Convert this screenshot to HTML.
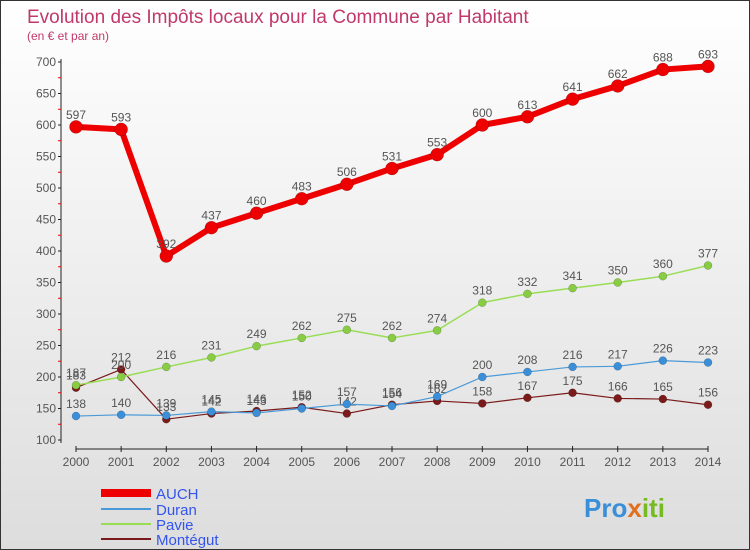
<!DOCTYPE html>
<html><head><meta charset="utf-8"><style>
body{margin:0}
#c{width:748px;height:548px;border:1px solid #333;background:linear-gradient(#fff,#ddd);position:relative;font-family:"Liberation Sans",sans-serif}
</style></head><body>
<div id="c">
<svg id="s" width="748" height="548" style="position:absolute;left:0;top:0" font-family="Liberation Sans, sans-serif">
<text x="26" y="22" font-size="19" fill="#c0396a">Evolution des Impôts locaux pour la Commune par Habitant</text>
<text x="26" y="39" font-size="12" fill="#c0396a">(en € et par an)</text>
<g id="ax"></g><g id="ser"></g>
<g>
<line x1="100" y1="492" x2="150" y2="492" stroke="#e00" stroke-width="8"/>
<text x="155" y="498" font-size="15" fill="#3355ee">AUCH</text>
<line x1="100" y1="508" x2="150" y2="508" stroke="#4a9ad8" stroke-width="2"/>
<text x="155" y="514" font-size="15" fill="#3355ee">Duran</text>
<line x1="100" y1="523" x2="150" y2="523" stroke="#99dd55" stroke-width="2"/>
<text x="155" y="529" font-size="15" fill="#3355ee">Pavie</text>
<line x1="100" y1="538" x2="150" y2="538" stroke="#7a1a1a" stroke-width="2"/>
<text x="155" y="544" font-size="15" fill="#3355ee">Montégut</text>
</g>
<text x="583" y="516" font-size="26" font-weight="bold" fill="#3a8fd8">Pro<tspan fill="#e07020">x</tspan><tspan fill="#77bb22">iti</tspan></text>
</svg>
</div>
<script>
const years=[2000,2001,2002,2003,2004,2005,2006,2007,2008,2009,2010,2011,2012,2013,2014];
const yTicks=[100,150,200,250,300,350,400,450,500,550,600,650,700];
const auch=[597,593,392,437,460,483,506,531,553,600,613,641,662,688,693];
const duran=[138,140,139,145,143,150,157,154,169,200,208,216,217,226,223];
const pavie=[187,200,216,231,249,262,275,262,274,318,332,341,350,360,377];
const montegut=[183,212,133,142,146,152,142,156,162,158,167,175,166,165,156];
const NS="http://www.w3.org/2000/svg";
const X=i=>75+i*(707-75)/(years.length-1);
const Y=v=>439-(v-100)*(439-61)/600;
function mk(t,a,p){const e=document.createElementNS(NS,t);for(const k in a)e.setAttribute(k,a[k]);p.appendChild(e);return e;}
const ax=document.getElementById('ax'),ser=document.getElementById('ser');
let yl=mk('line',{x1:60,y1:58,x2:60,y2:442,stroke:'#222'},ax);


let xl=mk('line',{x1:75,y1:448,x2:707,y2:448,stroke:'#222'},ax);


for(let v=100;v<=700;v+=25){mk('line',{x1:57,y1:Y(v),x2:60,y2:Y(v),stroke:v%50?'#e00':'#222'},ax);}
yTicks.forEach(v=>{const t=mk('text',{x:55,y:Y(v)+4,'font-size':12,fill:'#555','text-anchor':'end'},ax);t.textContent=v;

});
years.forEach((y,i)=>{mk('line',{x1:X(i),y1:445,x2:X(i),y2:451,stroke:'#222'},ax);const t=mk('text',{x:X(i),y:465,'font-size':12,fill:'#555','text-anchor':'middle'},ax);t.textContent=y;

});
function series(d,col,w,r,name,fc){
 const g=mk('g',{},ser);
 
 
 mk('polyline',{points:d.map((v,i)=>X(i)+','+Y(v)).join(' '),fill:'none',stroke:col,'stroke-width':w,'stroke-linejoin':'round'},g);
 d.forEach((v,i)=>{const c=mk('circle',{cx:X(i),cy:Y(v),r:r,fill:fc,stroke:'rgba(0,0,0,0.3)','stroke-width':0.5},g);
 
 
 const t=mk('text',{x:X(i),y:Y(v)-8,'font-size':12,fill:'#555','text-anchor':'middle'},g);t.textContent=v;
 
 });
}
series(montegut,'#7a1a1a',1.2,4,'montegut','#7a1a1a');
series(duran,'#4a9ad8',1.2,4,'duran','#3a8fd8');
series(pavie,'#99dd55',1.5,4,'pavie','#88cc44');
series(auch,'#e00',6,6.5,'auch','#e00');
</script>
</body></html>
